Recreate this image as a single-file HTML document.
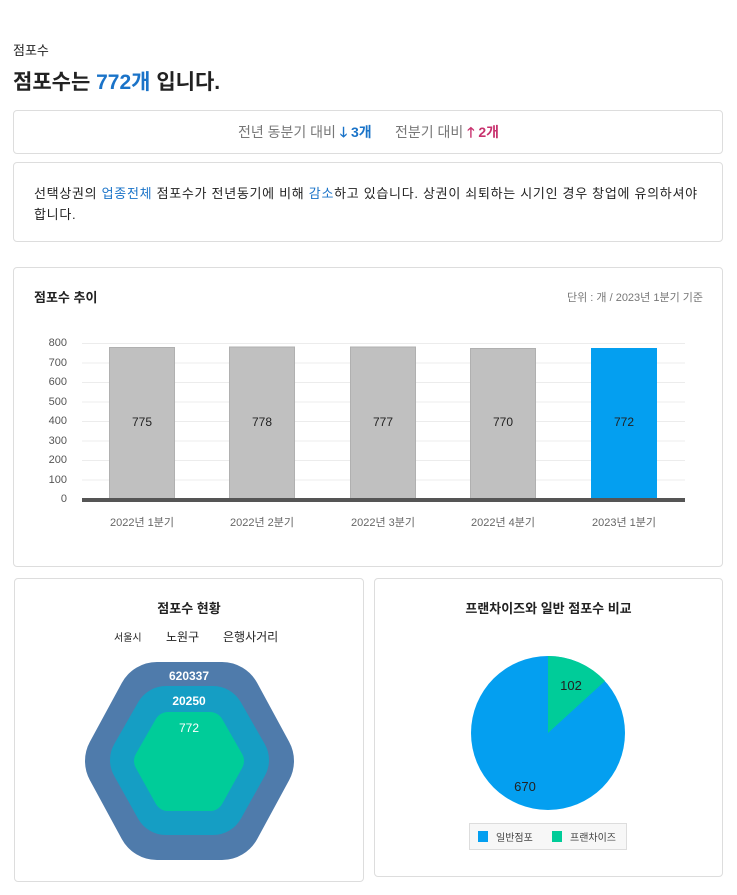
<!DOCTYPE html>
<html><head><meta charset="utf-8"><style>
*{margin:0;padding:0;box-sizing:border-box}
body{width:737px;height:895px;background:#fff;position:relative;font-family:"Liberation Sans","Noto Sans CJK KR",sans-serif;color:#222;overflow:hidden}
.a{position:absolute}
.card{position:absolute;border:1px solid #ddd;border-radius:4px;background:#fff}
.b{color:#1a73c8}
</style></head><body>
<div class="a" style="left:13px;top:40px;font-size:13px;color:#222">점포수</div>
<div class="a" style="left:13px;top:66px;font-size:21px;font-weight:bold;color:#222">점포수는 <span class="b">772개</span> 입니다.</div>
<div class="card" style="left:13px;top:110px;width:710px;height:44px"></div>
<div class="a" style="left:0;width:737px;top:122px;text-align:center;font-size:14px;color:#777">전년 동분기 대비 <b style="color:#1a73c8">🡓 3개</b>&nbsp;&nbsp;&nbsp;&nbsp;&nbsp;&nbsp;전분기 대비 <b style="color:#c8326e">🡑 2개</b></div>
<div class="card" style="left:13px;top:162px;width:710px;height:80px"></div>
<div class="a" style="left:34px;top:183px;width:668px;font-size:13px;letter-spacing:0.7px;line-height:21px;color:#222">선택상권의 <span class="b">업종전체</span> 점포수가 전년동기에 비해 <span class="b">감소</span>하고 있습니다. 상권이 쇠퇴하는 시기인 경우 창업에 유의하셔야 합니다.</div>

<div class="card" style="left:13px;top:267px;width:710px;height:300px"></div>
<div class="a" style="left:34px;top:287px;font-size:13px;font-weight:bold">점포수 추이</div>
<div class="a" style="right:34px;top:289px;font-size:11px;color:#777">단위 : 개 / 2023년 1분기 기준</div>
<svg class="a" style="left:0;top:0" width="737" height="895">
<g stroke="#ececec" stroke-width="1">
<line x1="82" x2="685" y1="343.5" y2="343.5"/><line x1="82" x2="685" y1="363" y2="363"/><line x1="82" x2="685" y1="382.5" y2="382.5"/><line x1="82" x2="685" y1="402" y2="402"/><line x1="82" x2="685" y1="421.5" y2="421.5"/><line x1="82" x2="685" y1="441" y2="441"/><line x1="82" x2="685" y1="460.5" y2="460.5"/><line x1="82" x2="685" y1="480" y2="480"/>
</g>
<g font-size="11" fill="#555" text-anchor="end" font-family="Liberation Sans,sans-serif">
<text x="67" y="346">800</text><text x="67" y="366">700</text><text x="67" y="385">600</text><text x="67" y="405">500</text><text x="67" y="424">400</text><text x="67" y="444">300</text><text x="67" y="463">200</text><text x="67" y="483">100</text><text x="67" y="502">0</text>
</g>
<g fill="#c0c0c0" stroke="#b0b0b0" stroke-width="1">
<rect x="109.5" y="347.5" width="65" height="151"/>
<rect x="229.5" y="347" width="65" height="151.5"/>
<rect x="350.5" y="347" width="65" height="151.5"/>
<rect x="470.5" y="348.5" width="65" height="150"/>
</g>
<rect x="591" y="348" width="66" height="151" fill="#049ff0"/>
<rect x="82" y="498" width="603" height="4" fill="#555"/>
<g font-size="12" fill="#222" text-anchor="middle" font-family="Liberation Sans,sans-serif">
<text x="142" y="426">775</text><text x="262" y="426">778</text><text x="383" y="426">777</text><text x="503" y="426">770</text><text x="624" y="426">772</text>
</g>
<g font-size="11" fill="#666" text-anchor="middle" font-family="Liberation Sans,Noto Sans CJK KR,sans-serif">
<text x="142" y="526">2022년 1분기</text><text x="262" y="526">2022년 2분기</text><text x="383" y="526">2022년 3분기</text><text x="503" y="526">2022년 4분기</text><text x="624" y="526">2023년 1분기</text>
</g>
</svg>

<div class="card" style="left:14px;top:578px;width:350px;height:304px"></div>
<div class="card" style="left:374px;top:578px;width:349px;height:299px"></div>
<div class="a" style="left:14px;width:350px;top:598px;text-align:center;font-size:13px;font-weight:bold">점포수 현황</div>
<div class="a" style="left:114px;top:629px;font-size:10px">서울시</div>
<div class="a" style="left:166px;top:628px;font-size:12px">노원구</div>
<div class="a" style="left:223px;top:628px;font-size:12px">은행사거리</div>
<div class="a" style="left:374px;width:349px;top:598px;text-align:center;font-size:13px;font-weight:bold">프랜차이즈와 일반 점포수 비교</div>
<svg class="a" style="left:0;top:0" width="737" height="895">
<polygon points="125,761 157,702 222,702 254,761 222,820 157,820" fill="#4f7bab" stroke="#4f7bab" stroke-width="80" stroke-linejoin="round"/>
<polygon points="142,760 166,718 213,718 237,760 213,803 166,803" fill="#159ec4" stroke="#159ec4" stroke-width="64" stroke-linejoin="round"/>
<polygon points="148,761 168,726 210,726 230,761 210,797 168,797" fill="#00cc99" stroke="#00cc99" stroke-width="28" stroke-linejoin="round"/>
<g fill="#fff" font-size="12" font-weight="bold" text-anchor="middle" font-family="Liberation Sans,sans-serif">
<text x="189" y="680">620337</text><text x="189" y="705">20250</text><text x="189" y="732" font-weight="normal">772</text>
</g>
<circle cx="548" cy="733" r="77" fill="#049ff0"/>
<path d="M548,733 L548,656 A77,77 0 0 1 605,681 Z" fill="#00cc99"/>
<g font-size="13" fill="#222" text-anchor="middle" font-family="Liberation Sans,sans-serif">
<text x="571" y="690">102</text><text x="525" y="791">670</text>
</g>
<rect x="469.5" y="823.5" width="157" height="26" fill="#f7f7f7" stroke="#ddd"/>
<rect x="478" y="831" width="10" height="11" fill="#049ff0"/>
<rect x="552" y="831" width="10" height="11" fill="#00cc99"/>
<g font-size="10" fill="#444" font-family="Liberation Sans,Noto Sans CJK KR,sans-serif">
<text x="496" y="841">일반점포</text><text x="570" y="841">프랜차이즈</text>
</g>
</svg>
</body></html>
